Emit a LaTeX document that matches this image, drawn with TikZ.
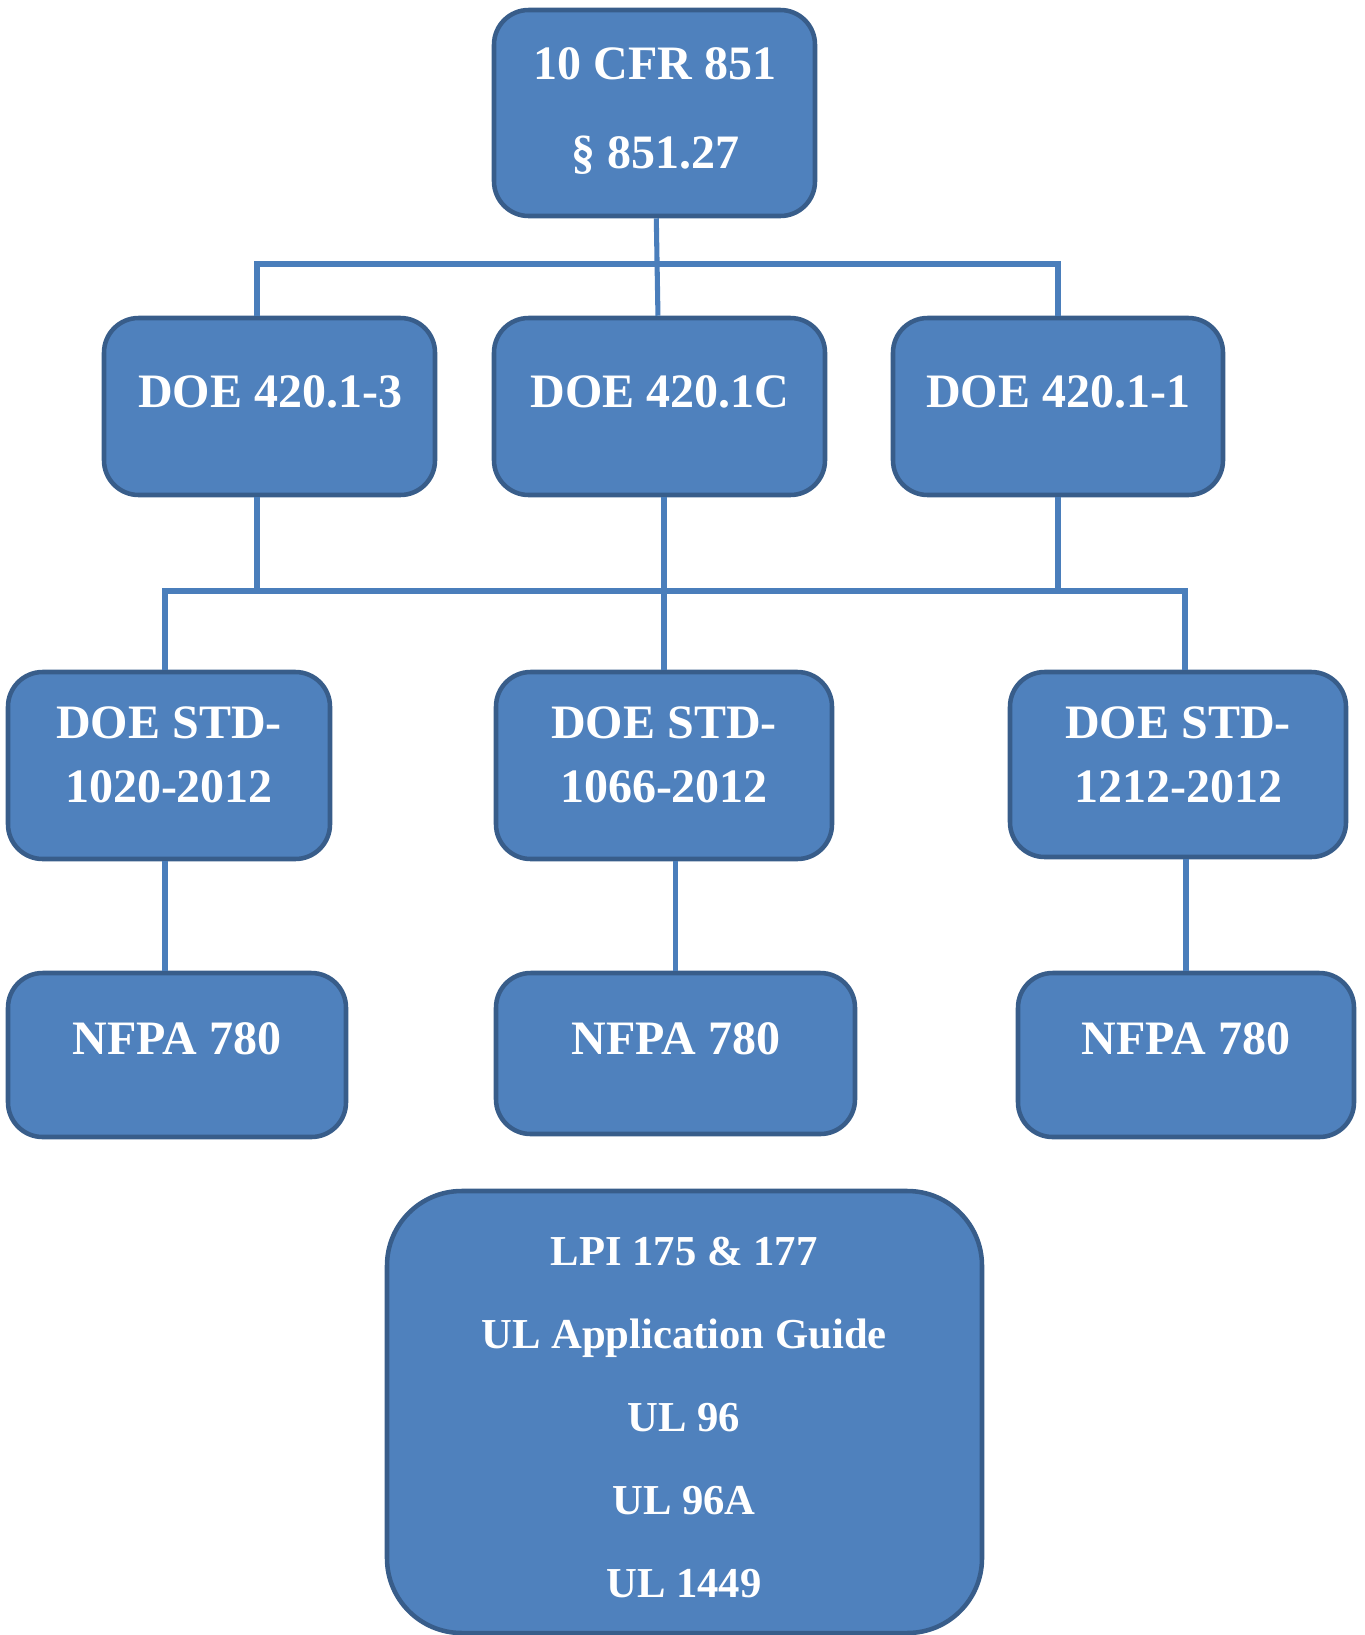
\documentclass[tikz,border=0pt]{standalone}
\usepackage{fontspec}
\setmainfont{Liberation Serif}
\usetikzlibrary{fit}
\definecolor{boxblue}{RGB}{79,129,189}
\definecolor{boxedge}{RGB}{56,93,138}
\definecolor{linkblue}{RGB}{74,126,187}

\begin{document}
\begin{tikzpicture}[
    x=0.75pt, y=-0.75pt,
    doc/.style={draw=boxedge, line width=3.4pt, fill=boxblue, rounded corners=26pt, inner sep=0pt},
    bigdoc/.style={doc, rounded corners=56pt},
    txt/.style={text=white, font=\fontsize{36}{40}\selectfont\bfseries, anchor=base, inner sep=0pt},
    smalltxt/.style={txt, font=\fontsize{32}{36}\selectfont\bfseries},
    link/.style={draw=linkblue, line width=3.8pt}
]
    \useasboundingbox (0,0) rectangle (1364,1635);

    % boxes
    \node[doc, fit={(494,10) (815,216)}] (cfr) {};
    \node[doc, fit={(104,318) (435,495)}] (ord3) {};
    \node[doc, fit={(494,318) (825,495)}] (ordC) {};
    \node[doc, fit={(893,318) (1223,495)}] (ord1) {};
    \node[doc, fit={(8,672) (330,859)}] (std1020) {};
    \node[doc, fit={(496,672) (832,859)}] (std1066) {};
    \node[doc, fit={(1010,672) (1346,857)}] (std1212) {};
    \node[doc, fit={(8,973) (346,1137)}] (nfpaL) {};
    \node[doc, fit={(496,973) (855,1134)}] (nfpaM) {};
    \node[doc, fit={(1018,973) (1354,1137)}] (nfpaR) {};
    \node[bigdoc, fit={(387,1191) (982,1633)}] (lpi) {};

    % texts
    \node[txt] (cfr-1) at (655,79) {10 CFR 851};
    \node[txt] (cfr-2) at (655,168) {§ 851.27};
    \node[txt] (ord3-t) at (270,407) {DOE 420.1-3};
    \node[txt] (ordC-t) at (660,407) {DOE 420.1C};
    \node[txt] (ord1-t) at (1058,407) {DOE 420.1-1};
    \node[txt] (std1020-1) at (169,738) {DOE STD-};
    \node[txt] (std1020-2) at (169,802) {1020-2012};
    \node[txt] (std1066-1) at (664,738) {DOE STD-};
    \node[txt] (std1066-2) at (664,802) {1066-2012};
    \node[txt] (std1212-1) at (1178,738) {DOE STD-};
    \node[txt] (std1212-2) at (1178,802) {1212-2012};
    \node[txt] (nfpaL-t) at (177,1054) {NFPA 780};
    \node[txt] (nfpaM-t) at (676,1054) {NFPA 780};
    \node[txt] (nfpaR-t) at (1186,1054) {NFPA 780};
    \foreach \t [count=\i] in {LPI 175 \& 177, UL Application Guide, UL 96, UL 96A, UL 1449}
        \node[smalltxt] (lpi-\i) at (684,{1181.8+83.2*\i}) {\t};

    % bus lines
    \coordinate (bus1w) at (257,264);
    \coordinate (bus1e) at (1058,264);
    \coordinate (bus2w) at (165,591);
    \coordinate (bus2e) at (1185,591);

    \draw[link] (cfr) -- (ordC);
    \draw[link] (ord3.north -| bus1w) |- (bus1e) -- (ord1.north);
    \draw[link] (ord3.south -| bus1w) |- (bus2w) -- (std1020.north -| bus2w);
    \draw[link] (bus2w) -- (bus2e) -- (std1212.north -| bus2e);
    \draw[link] (ord1.south) -- (ord1.south |- bus2e);
    \draw[link] (std1066.north |- ordC.south) -- (std1066.north);
    \draw[link] (std1020.south -| bus2w) -- (nfpaL.north -| bus2w);
    \draw[link] (nfpaM.north |- std1066.south) -- (nfpaM.north);
    \draw[link] (nfpaR.north |- std1212.south) -- (nfpaR.north);
\end{tikzpicture}
\end{document}
